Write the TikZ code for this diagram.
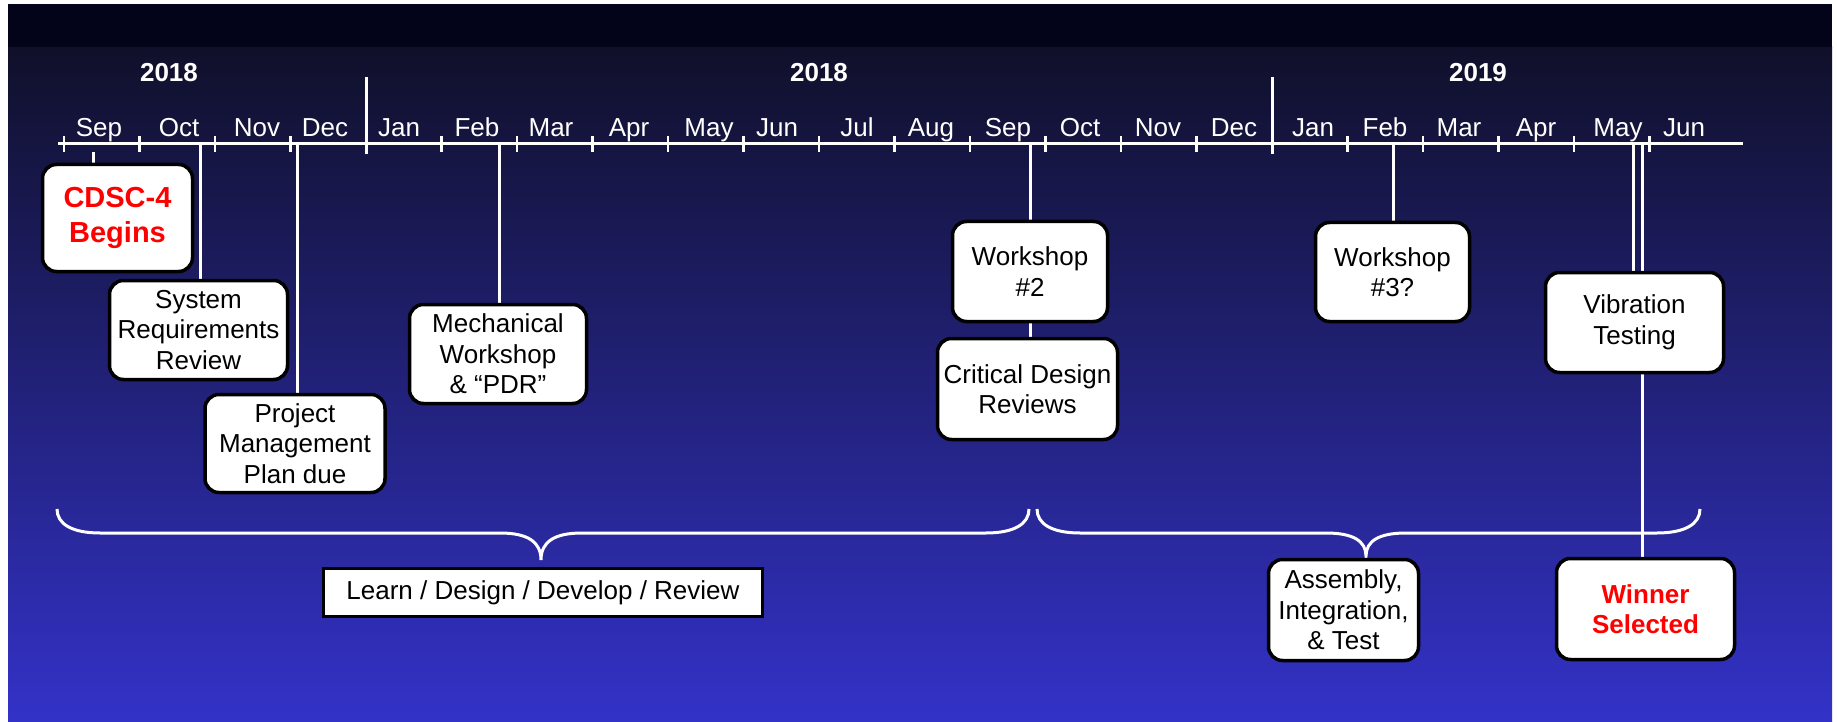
\documentclass[tikz,border=0pt]{standalone}
\usepackage{fontspec}
\setmainfont{Liberation Sans}
\pgfdeclarelayer{back}
\pgfdeclarelayer{mid}
\pgfsetlayers{back,mid,main}
\definecolor{band}{RGB}{3,3,26}
\definecolor{gtop}{RGB}{16,16,42}
\definecolor{gmid}{RGB}{36,36,145}
\definecolor{gbot}{RGB}{51,50,200}
\definecolor{alertred}{RGB}{255,0,0}
\newcommand\txtfont{\fontsize{26}{30.5}\selectfont}
\newcommand\bigred{\fontsize{29}{35}\selectfont\bfseries}
\begin{document}
\begin{tikzpicture}[x=1pt,y=-1pt,
  axisline/.style={white,line width=3pt},
  tickmark/.style={white,line width=2.5pt},
  conn/.style={white,line width=3pt},
  bracepath/.style={white,line width=3pt},
  month/.style={text=white,font=\txtfont,anchor=base,inner sep=0pt},
  yearlbl/.style={text=white,font=\txtfont\bfseries,anchor=base,inner sep=0pt},
  evbox/.style={draw=black,line width=3.5pt,fill=white,rounded corners=14pt,
    align=center,inner sep=2pt,font=\txtfont,text=black},
  phasebox/.style={draw=black,line width=3pt,fill=white,align=center,inner sep=2pt,font=\txtfont,text=black}]
\useasboundingbox (0,0) rectangle (1837,722);
\begin{pgfonlayer}{back}
\fill[white] (0,0) rectangle (1837,722);
\shade[top color=gtop,middle color=gmid,bottom color=gbot] (8,47) rectangle (1832,722);
\fill[band] (8,4) rectangle (1832,47);
\end{pgfonlayer}

% axis
\coordinate (axL) at (58,144);
\coordinate (axR) at (1743,144);
\draw[axisline] (axL) -- (axR);
\foreach \i in {0,1,2,3,5,6,7,8,9,10,11,12,13,14,15,17,18,19,20,21}{
  \draw[tickmark] ({64+75.5*\i},136) -- ({64+75.5*\i},152);
}
\draw[tickmark,line width=3pt] (366,77) -- (366,154);
\draw[tickmark,line width=3pt] (1272,77) -- (1272,154);
\foreach \m/\px [count=\i from 0] in {Sep/99,Oct/179,Nov/257,Dec/325,Jan/399,Feb/477,Mar/551,Apr/629,May/709,Jun/777,Jul/857,Aug/931,Sep/1008,Oct/1080,Nov/1158,Dec/1234,Jan/1313,Feb/1385,Mar/1459,Apr/1536,May/1618,Jun/1684}{
  \node[month] (m\i) at (\px,137) {\m};
}
\node[yearlbl] (y1) at (169,82) {2018};
\node[yearlbl] (y2) at (819,82) {2018};
\node[yearlbl] (y3) at (1478,82) {2019};

% event boxes
\node[evbox,minimum width=150pt,minimum height=107pt,text=alertred,font=\bigred] (cdsc) at (117.5,218) {CDSC-4\\Begins};
\node[evbox,minimum width=178pt,minimum height=99pt] (srr) at (198.5,330) {System\\Requirements\\Review};
\node[evbox,minimum width=180pt,minimum height=98pt] (pmp) at (295,443.5) {Project\\Management\\Plan due};
\node[evbox,minimum width=177pt,minimum height=99pt] (mech) at (498,354) {Mechanical\\Workshop\\\&\ “PDR”};
\node[evbox,minimum width=155pt,minimum height=100pt] (ws2) at (1030,271.5) {Workshop\\\#2};
\node[evbox,minimum width=180pt,minimum height=101pt] (cdr) at (1027.5,389) {Critical Design\\Reviews};
\node[evbox,minimum width=154pt,minimum height=99pt] (ws3) at (1392.5,272) {Workshop\\\#3?};
\node[evbox,minimum width=178pt,minimum height=100pt] (vib) at (1634.5,322.5) {Vibration\\Testing};
\node[evbox,minimum width=150pt,minimum height=101pt] (asm) at (1343.5,610) {Assembly,\\Integration,\\\&\ Test};
\node[evbox,minimum width=178pt,minimum height=101pt,text=alertred,font=\txtfont\bfseries] (win) at (1645.5,609) {Winner\\Selected};
\node[phasebox,minimum width=439pt,minimum height=48pt] (learn) at (543,592.5) {Learn / Design / Develop / Review};

% connectors (behind boxes)
\begin{pgfonlayer}{mid}
\coordinate (tcdsc) at (93,152);
\coordinate (tsrr) at (200,144);
\coordinate (tpmp) at (297,144);
\coordinate (tmech) at (499,144);
\coordinate (tws2) at (1030,144);
\coordinate (tws3) at (1393,144);
\coordinate (tvib) at (1633,144);
\coordinate (twin) at (1642,144);
\draw[conn] (tcdsc) -- (tcdsc |- cdsc.north);
\draw[conn] (tsrr) -- (tsrr |- srr.north);
\draw[conn] (tpmp) -- (tpmp |- pmp.north);
\draw[conn] (tmech) -- (tmech |- mech.north);
\draw[conn] (tws2) -- (tws2 |- ws2.north);
\draw[conn] (ws2.south) -- (ws2.south |- cdr.north);
\draw[conn] (tws3) -- (tws3 |- ws3.north);
\draw[conn] (tvib) -- (tvib |- vib.north);
\draw[conn] (twin) -- (twin |- win.north);
% braces
\draw[bracepath] (57,509) .. controls (57,524) and (72,533) .. (100,533) -- (500,533)
  .. controls (528,533) and (541,542) .. (541,560)
  .. controls (541,542) and (554,533) .. (582,533) -- (986,533)
  .. controls (1014,533) and (1029,524) .. (1029,509);
\draw[bracepath] (1037,509) .. controls (1037,524) and (1052,533) .. (1080,533) -- (1326,533)
  .. controls (1353,533) and (1366,541) .. (1366,556)
  .. controls (1366,541) and (1379,533) .. (1406,533) -- (1657,533)
  .. controls (1685,533) and (1700,524) .. (1700,509);
\end{pgfonlayer}
\end{tikzpicture}
\end{document}
